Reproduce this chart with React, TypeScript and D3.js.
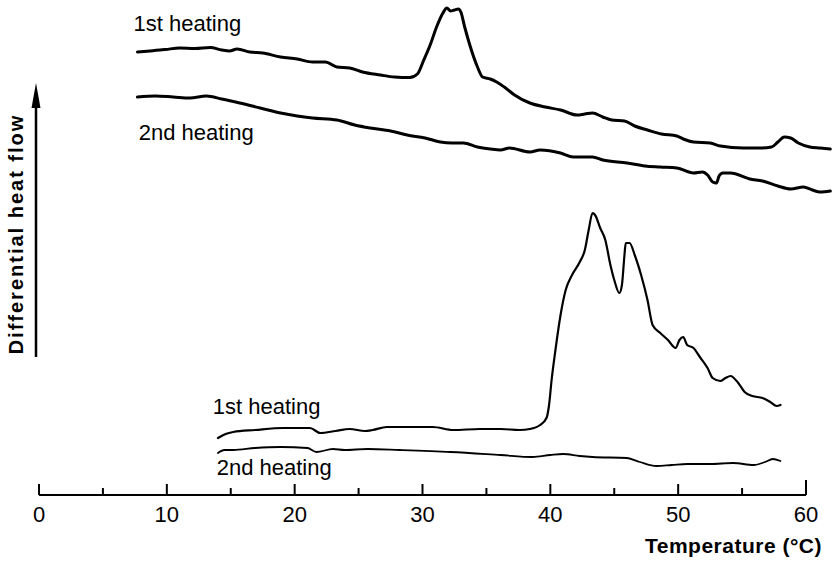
import React from "react";
import * as d3 from "d3";

// Temperature (°C) and differential heat flow (arbitrary units)
const top1T = [7.7, 8.7, 9.9, 11.0, 12.2, 13.4, 14.3, 14.9, 15.5, 16.5, 17.5, 18.9, 20.2, 21.4, 22.4, 23.3, 24.3, 25.3, 26.7, 27.8, 29.0, 29.6, 30.1, 30.6, 31.1, 31.6, 31.9, 32.2, 32.5, 32.8, 33.0, 33.3, 33.7, 34.3, 34.7, 35.3, 35.8, 36.5, 37.2, 38.4, 39.6, 40.8, 42.1, 42.7, 43.3, 44.1, 44.8, 45.8, 46.6, 47.6, 48.7, 49.9, 50.4, 51.2, 52.5, 53.3, 55.1, 56.4, 57.3, 57.8, 58.3, 58.8, 59.4, 60.3, 61.1, 61.9];
const top1V = [88.6, 88.8, 89.1, 89.4, 89.3, 89.5, 89.0, 88.8, 89.2, 88.6, 88.4, 87.6, 87.2, 86.6, 86.6, 85.6, 85.4, 84.6, 84.0, 83.6, 83.5, 84.2, 87.0, 90.0, 93.6, 96.4, 97.4, 96.8, 97.0, 97.2, 96.6, 93.6, 90.0, 85.6, 83.6, 83.2, 82.6, 81.4, 80.0, 78.4, 77.6, 77.0, 76.0, 76.2, 76.4, 75.6, 75.0, 74.8, 73.8, 73.0, 72.2, 71.8, 71.2, 70.6, 70.4, 69.8, 69.4, 69.4, 69.6, 70.6, 71.6, 71.4, 70.4, 69.6, 69.4, 69.2];

const top2T = [7.7, 9.1, 10.5, 11.8, 13.1, 14.3, 15.7, 17.3, 18.9, 20.2, 21.4, 23.3, 24.7, 25.9, 27.5, 28.8, 30.2, 31.4, 32.3, 33.2, 34.3, 35.3, 36.1, 36.8, 38.4, 39.2, 40.8, 41.8, 43.3, 44.1, 46.0, 47.4, 48.6, 49.9, 51.2, 51.9, 52.3, 52.7, 53.0, 53.2, 53.5, 54.1, 55.6, 56.6, 57.8, 58.8, 59.8, 60.5, 61.1, 61.9];
const top2V = [79.6, 79.8, 79.6, 79.4, 79.8, 79.2, 78.4, 77.4, 76.4, 75.8, 75.4, 75.0, 74.0, 73.4, 72.8, 72.0, 71.4, 70.6, 70.4, 70.4, 69.6, 69.2, 69.0, 69.4, 68.6, 69.0, 68.4, 67.6, 67.6, 67.0, 66.4, 65.8, 65.6, 65.4, 64.4, 64.6, 64.0, 62.6, 62.4, 63.8, 64.4, 64.4, 63.2, 62.8, 61.8, 61.2, 61.6, 61.0, 60.6, 60.8];

const low1T = [14.0, 14.6, 15.2, 16.9, 19.1, 20.4, 21.2, 22.0, 23.2, 24.3, 25.5, 26.1, 27.2, 29.0, 30.8, 32.4, 34.5, 36.1, 37.6, 38.4, 39.2, 39.7, 39.9, 40.1, 40.4, 40.8, 41.2, 41.7, 42.3, 42.7, 43.0, 43.3, 43.5, 43.9, 44.3, 44.7, 45.0, 45.4, 45.6, 45.8, 45.9, 46.2, 46.6, 47.1, 47.6, 48.0, 48.6, 49.2, 49.8, 50.1, 50.4, 50.7, 51.2, 51.7, 52.3, 52.7, 53.3, 53.7, 54.1, 54.7, 55.2, 55.8, 56.6, 57.2, 57.7, 58.0];
const low1V = [11.4, 12.2, 12.6, 13.0, 13.4, 13.4, 13.4, 12.4, 12.8, 13.2, 12.8, 13.0, 13.6, 13.6, 13.6, 13.0, 13.2, 13.2, 13.0, 13.2, 14.0, 15.4, 18.0, 23.0, 29.0, 36.0, 41.0, 44.0, 46.6, 49.0, 53.0, 56.4, 56.0, 53.4, 51.0, 46.0, 43.0, 40.4, 42.0, 48.0, 50.4, 50.4, 48.0, 44.0, 39.0, 34.0, 32.4, 31.0, 29.4, 31.0, 31.6, 30.0, 29.4, 27.6, 25.4, 23.4, 22.8, 23.4, 23.8, 22.4, 20.6, 19.8, 19.4, 18.6, 17.8, 18.0];

const low2T = [14.0, 14.5, 15.2, 16.9, 18.9, 21.0, 21.7, 23.0, 23.9, 25.7, 28.2, 32.2, 36.1, 38.6, 40.0, 41.0, 42.3, 43.3, 46.0, 47.0, 48.3, 49.5, 50.7, 52.5, 54.3, 55.9, 56.8, 57.4, 58.0];
const low2V = [8.4, 9.0, 9.0, 9.4, 9.6, 9.4, 8.6, 9.2, 9.0, 9.2, 9.0, 8.6, 8.0, 7.6, 8.0, 8.2, 7.8, 7.6, 7.4, 6.6, 5.8, 6.0, 6.2, 6.2, 6.4, 6.0, 6.6, 7.2, 6.8];

const majorTicks = [0, 10, 20, 30, 40, 50, 60];
const minorTicks = [5, 15, 25, 35, 45, 55];

const curveLabels = [
  { text: "1st heating", t: 7.4, v: 92.8 },
  { text: "2nd heating", t: 7.8, v: 71.0 },
  { text: "1st heating", t: 13.6, v: 16.2 },
  { text: "2nd heating", t: 13.9, v: 4.0 },
];

const W = 832;
const H = 562;
const FONT = "'Liberation Sans', Arial, Helvetica, sans-serif";

export default function App() {
  const x = d3.scaleLinear().domain([0, 60]).range([39, 806]);
  const y = d3.scaleLinear().domain([0, 100]).range([495, -5]);

  const line = d3
    .line<[number, number]>()
    .x((d) => x(d[0]))
    .y((d) => y(d[1]))
    .curve(d3.curveMonotoneX);

  const zip = (a: number[], b: number[]) => a.map((t, i) => [t, b[i]] as [number, number]);

  const series = [
    { d: zip(top1T, top1V), w: 3 },
    { d: zip(top2T, top2V), w: 3 },
    { d: zip(low1T, low1V), w: 2.2 },
    { d: zip(low2T, low2V), w: 1.8 },
  ];

  const axisY = y(0);

  return (
    <svg
      width={W}
      height={H}
      style={{ position: "absolute", left: 0, top: 0, background: "#fff" }}
      fontFamily={FONT}
    >
      <rect width={W} height={H} fill="#fff" />
      {series.map((s, i) => (
        <path key={i} d={line(s.d) || ""} fill="none" stroke="#000" strokeWidth={s.w} strokeLinejoin="round" strokeLinecap="round" />
      ))}

      {curveLabels.map((l, i) => (
        <text key={i} x={x(l.t)} y={y(l.v)} fontSize={22} fill="#000">
          {l.text}
        </text>
      ))}

      {/* x axis */}
      <line x1={x(0)} x2={x(60)} y1={axisY} y2={axisY} stroke="#000" strokeWidth={2} />
      {majorTicks.map((t) => (
        <g key={t}>
          <line x1={x(t)} x2={x(t)} y1={axisY} y2={axisY - (t === 60 ? 15 : 11)} stroke="#000" strokeWidth={2} />
          <text x={x(t)} y={axisY + 27} fontSize={22} textAnchor="middle" fill="#000">
            {t}
          </text>
        </g>
      ))}
      {minorTicks.map((t) => (
        <line key={t} x1={x(t)} x2={x(t)} y1={axisY} y2={axisY - 7} stroke="#000" strokeWidth={2} />
      ))}
      <text x={822} y={553} fontSize={21} fontWeight="bold" textAnchor="end" fill="#000" letterSpacing={0.5}>
        Temperature (°C)
      </text>

      {/* y axis arrow */}
      <line x1={36} x2={36} y1={357} y2={100} stroke="#000" strokeWidth={2.5} />
      <path d="M36,83 L40.5,108 L31.5,108 Z" fill="#000" />
      <text
        transform="translate(23,234) rotate(-90)"
        fontSize={20}
        fontWeight="bold"
        textAnchor="middle"
        fill="#000"
        letterSpacing={2}
      >
        Differential heat flow
      </text>
    </svg>
  );
}
